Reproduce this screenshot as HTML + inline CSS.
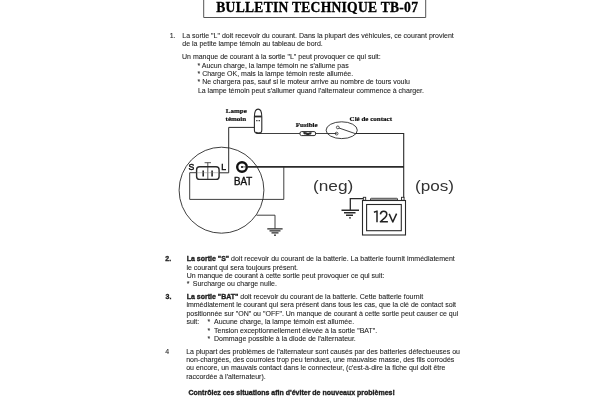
<!DOCTYPE html>
<html><head><meta charset="utf-8"><style>
html,body{margin:0;padding:0;background:#fff;}
body{width:600px;height:400px;position:relative;overflow:hidden;}
.wrap{position:absolute;left:0;top:0;width:600px;height:400px;filter:blur(0.35px);}
.t{position:absolute;white-space:pre;font-family:"Liberation Sans",sans-serif;color:#1e1e1e;-webkit-text-stroke:0.08px #1e1e1e;}
.t b{-webkit-text-stroke:0.35px #1e1e1e;}
.s{position:absolute;white-space:pre;font-family:"Liberation Serif",serif;color:#111;-webkit-text-stroke:0.12px #111;}
</style></head><body>
<div class="wrap">
<svg width="600" height="400" viewBox="0 0 600 400" style="position:absolute;left:0;top:0" fill="none" stroke="#2a2a2a">
  <!-- title box -->
  <path d="M203.7 -2 V17.5 H425.7 V-2" stroke="#555" stroke-width="1"/>
  <!-- alternator circle -->
  <ellipse cx="221.5" cy="190.2" rx="42.4" ry="43" stroke-width="0.9"/>
  <!-- lamp wire: from bulb left down to L -->
  <path d="M254.4 127.4 H228.7 V172.8 H219.3" stroke-width="1"/>
  <!-- S loop -->
  <path d="M196.3 172.7 H189.7 V199.4 H283.8 V167" stroke-width="0.9"/>
  <!-- connector -->
  <rect x="196.6" y="166.8" width="22.5" height="12.6" rx="3" stroke-width="1.4"/>
  <path d="M207.8 162.7 V179.5 M204.6 162.7 H211" stroke-width="0.8"/>
  <path d="M203.2 170.4 V176.4 M212.1 170.4 V176.4" stroke-width="1.6"/>
  <path d="M196.6 172.7 H219" stroke-width="0.5" stroke="#888"/>
  <!-- BAT terminal -->
  <circle cx="242" cy="167" r="4.8" stroke-width="2.4" stroke="#111"/>
  <circle cx="242" cy="167" r="1.1" fill="#111" stroke="none"/>
  <path d="M242 166.9 H247" stroke-width="0.7"/>
  <!-- BAT wire thick -->
  <path d="M247 166.9 H404" stroke-width="1.7"/>
  <!-- ground from alternator -->
  <path d="M256.5 215.2 H275 V228.6" stroke-width="0.9"/>
  <path d="M267.3 228.9 H282.6 M269.5 230.9 H280.5 M271.5 232.9 H278.5" stroke-width="1.4"/>
  <circle cx="275" cy="235.2" r="0.9" fill="#2a2a2a" stroke="none"/>
  <!-- bulb -->
  <path d="M254.4 117 C254.4 111.5 256.3 109.1 258.1 109.1 C259.9 109.1 261.8 111.5 261.8 117 V130 Q261.8 133.4 258.1 133.4 Q254.4 133.4 254.4 130 Z" stroke-width="1.1"/>
  <path d="M254.4 116.5 H261.8" stroke-width="1.8"/>
  <path d="M256.2 120.6 h1.3 M258.6 120.6 h1.3" stroke-width="1.3"/>
  <path d="M256 132.3 Q258 134 260.5 132.6" stroke-width="1.4"/>
  <!-- top wire bulb -> fuse -> switch -> right -->
  <path d="M259 133.5 H300 M315.6 133.5 H336.6" stroke-width="0.9"/>
  <rect x="300" y="131.6" width="15.6" height="4" rx="1.5" stroke-width="1"/>
  <path d="M303.6 133.6 C305.5 131.8 307 135.4 309.2 133.6 C310 133 310.6 133.2 311.4 133.6" stroke-width="2.2"/>
  <!-- switch ellipse -->
  <ellipse cx="341.7" cy="130.2" rx="15.6" ry="8.4" stroke-width="0.9"/>
  <circle cx="337.8" cy="127.4" r="1.4" stroke-width="0.8"/>
  <circle cx="336.6" cy="133.6" r="1.4" stroke-width="0.8"/>
  <path d="M339 128 L355.2 133.6" stroke-width="0.9"/>
  <path d="M355.2 133.5 H403.7 V197.5" stroke-width="1.1"/>
  <!-- battery -->
  <rect x="362.5" y="200.5" width="43" height="34.5" stroke-width="1.1"/>
  <rect x="366.6" y="204.5" width="34.7" height="26.2" stroke-width="1.1"/>
  <path d="M370.5 200 V198.8 Q370.5 198.3 371.2 198.3 H396.8 Q397.5 198.3 397.5 198.8 V200" stroke-width="0.9"/><path d="M371 199.3 H397" stroke-width="1" stroke="#777"/>
  <rect x="363.3" y="197.3" width="2.4" height="3" stroke-width="0.9"/><rect x="401.5" y="197.3" width="2.6" height="3" stroke-width="0.9"/>
  <!-- 12v glyphs -->
  <path d="M373.9 212.2 L377 211.1 V222.2" stroke-width="1.5" stroke="#222" stroke-linejoin="round"/>
  <path d="M380.4 214.4 C380.6 212.4 382 211.2 383.6 211.2 C385.4 211.2 386.8 212.5 386.8 214.2 C386.8 215.6 386 216.6 385 217.6 L380.4 221.7 H387.9" stroke-width="1.5" stroke="#222" stroke-linejoin="round"/>
  <path d="M389.2 213.9 L392.8 222 L396.6 213.6" stroke-width="1.5" stroke="#222" stroke-linejoin="round"/>
  <!-- neg wire and ground -->
  <path d="M363.3 198.6 H350.3 V210" stroke-width="1.3"/>
  <path d="M341.5 210.3 H359 M344 212.8 H355.5 M346 215.3 H353" stroke-width="1.4"/>
  <circle cx="350" cy="217.8" r="0.9" fill="#2a2a2a" stroke="none"/>
</svg>

<div class="t" style="left:169.70px;top:32.07px;font-size:7px;line-height:7px;">1.</div>
<div class="t" style="left:182.30px;top:32.07px;font-size:7px;line-height:7px;">La sortie "L" doit recevoir du courant. Dans la plupart des véhicules, ce courant provient</div>
<div class="t" style="left:182.30px;top:40.07px;font-size:7px;line-height:7px;">de la petite lampe témoin au tableau de bord.</div>
<div class="t" style="left:182.00px;top:53.07px;font-size:7px;line-height:7px;">Un manque de courant à la sortie "L" peut provoquer ce qui suit:</div>
<div class="t" style="left:197.50px;top:61.57px;font-size:7px;line-height:7px;">* Aucun charge, la lampe témoin ne s'allume pas</div>
<div class="t" style="left:197.50px;top:69.87px;font-size:7px;line-height:7px;">* Charge OK, mais la lampe témoin reste allumée.</div>
<div class="t" style="left:197.50px;top:78.17px;font-size:7px;line-height:7px;">* Ne chargera pas, sauf si le moteur arrive au nombre de tours voulu</div>
<div class="t" style="left:197.90px;top:86.67px;font-size:7px;line-height:7px;">La lampe témoin peut s'allumer quand l'alternateur commence à charger.</div>
<div class="t" style="left:165.30px;top:255.47px;font-size:7px;line-height:7px;"><b>2.</b></div>
<div class="t" style="left:186.70px;top:255.47px;font-size:7px;line-height:7px;"><b>La sortie "S"</b> doit recevoir du courant de la batterie. La batterie fournit immédiatement</div>
<div class="t" style="left:186.40px;top:263.77px;font-size:7px;line-height:7px;">le courant qui sera toujours présent.</div>
<div class="t" style="left:186.70px;top:272.07px;font-size:7px;line-height:7px;">Un manque de courant à cette sortie peut provoquer ce qui suit:</div>
<div class="t" style="left:186.70px;top:280.47px;font-size:7px;line-height:7px;">*</div>
<div class="t" style="left:192.80px;top:280.47px;font-size:7px;line-height:7px;">Surcharge ou charge nulle.</div>
<div class="t" style="left:165.50px;top:292.57px;font-size:7px;line-height:7px;"><b>3.</b></div>
<div class="t" style="left:186.70px;top:292.57px;font-size:7px;line-height:7px;"><b>La sortie "BAT"</b> doit recevoir du courant de la batterie. Cette batterie fournit</div>
<div class="t" style="left:186.40px;top:301.17px;font-size:7px;line-height:7px;">immédiatement le courant qui sera présent dans tous les cas, que la clé de contact soit</div>
<div class="t" style="left:186.40px;top:309.72px;font-size:7px;line-height:7px;">positionnée sur "ON" ou "OFF". Un manque de courant à cette sortie peut causer ce qui</div>
<div class="t" style="left:186.40px;top:317.77px;font-size:7px;line-height:7px;">suit:</div>
<div class="t" style="left:207.40px;top:318.07px;font-size:7px;line-height:7px;">*</div>
<div class="t" style="left:214.00px;top:318.07px;font-size:7px;line-height:7px;">Aucune charge, la lampe témoin est allumée.</div>
<div class="t" style="left:207.40px;top:326.77px;font-size:7px;line-height:7px;">*</div>
<div class="t" style="left:214.00px;top:326.77px;font-size:7px;line-height:7px;">Tension exceptionnellement élevée à la sortie "BAT".</div>
<div class="t" style="left:207.40px;top:334.87px;font-size:7px;line-height:7px;">*</div>
<div class="t" style="left:214.00px;top:334.87px;font-size:7px;line-height:7px;">Dommage possible à la diode de l'alternateur.</div>
<div class="t" style="left:165.20px;top:347.77px;font-size:7px;line-height:7px;">4</div>
<div class="t" style="left:186.20px;top:347.57px;font-size:7px;line-height:7px;">La plupart des problèmes de l'alternateur sont causés par des batteries défectueuses ou</div>
<div class="t" style="left:186.20px;top:355.77px;font-size:7px;line-height:7px;">non-chargées, des courroies trop peu tendues, une mauvaise masse, des fils corrodés</div>
<div class="t" style="left:186.20px;top:364.17px;font-size:7px;line-height:7px;">ou encore, un mauvais contact dans le connecteur, (c'est-à-dire la fiche qui doit être</div>
<div class="t" style="left:186.20px;top:372.77px;font-size:7px;line-height:7px;">raccordée à l'alternateur).</div>
<div class="t" style="left:188.50px;top:389.37px;font-size:7px;line-height:7px;"><b>Contrôlez ces situations afin d'éviter de nouveaux problèmes!</b></div>
<div class="s" style="left:216.30px;top:1.21px;font-size:13.6px;line-height:13.6px;font-weight:bold;color:#000;letter-spacing:0.25px;-webkit-text-stroke:0.3px #000;">BULLETIN TECHNIQUE TB-07</div>
<div class="s" style="left:225.80px;top:108.24px;font-size:7px;line-height:7px;font-weight:bold;-webkit-text-stroke:0.2px #111;">Lampe</div>
<div class="s" style="left:225.60px;top:116.24px;font-size:7px;line-height:7px;font-weight:bold;-webkit-text-stroke:0.2px #111;">témoin</div>
<div class="s" style="left:295.80px;top:121.94px;font-size:7px;line-height:7px;font-weight:bold;-webkit-text-stroke:0.2px #111;">Fusible</div>
<div class="s" style="left:349.60px;top:115.54px;font-size:7px;line-height:7px;font-weight:bold;-webkit-text-stroke:0.2px #111;">Clé de contact</div>
<div class="t" style="left:188.60px;top:163.32px;font-size:8.6px;line-height:8.6px;color:#111;-webkit-text-stroke:0.5px #111;">S</div>
<div class="t" style="left:221.20px;top:163.32px;font-size:8.6px;line-height:8.6px;color:#111;-webkit-text-stroke:0.5px #111;">L</div>
<div class="t" style="left:233.70px;top:175.81px;font-size:10.5px;line-height:10.5px;transform:scaleX(0.93);transform-origin:0 0;color:#111;-webkit-text-stroke:0.4px #111;">BAT</div>
<div class="t" style="left:313.40px;top:178.73px;font-size:14.5px;line-height:14.5px;transform:scaleX(1.19);transform-origin:0 0;color:#333;-webkit-text-stroke:0px #333;">(neg)</div>
<div class="t" style="left:415.40px;top:178.73px;font-size:14.5px;line-height:14.5px;transform:scaleX(1.18);transform-origin:0 0;color:#333;-webkit-text-stroke:0px #333;">(pos)</div></div>
</body></html>
